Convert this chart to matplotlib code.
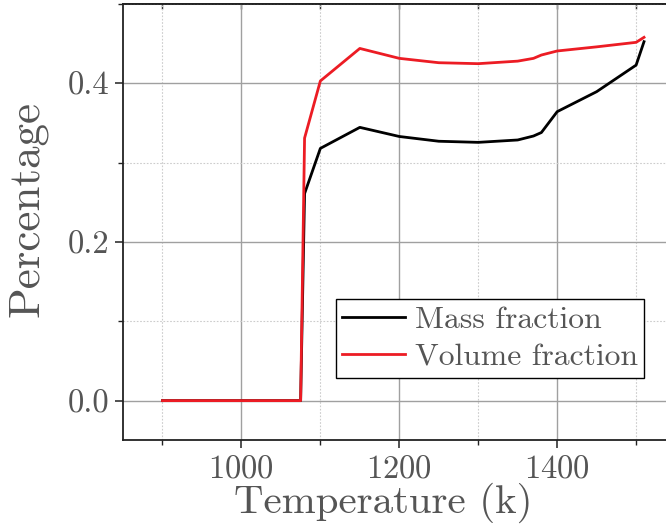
import matplotlib
matplotlib.use("Agg")
import matplotlib.pyplot as plt
from matplotlib.ticker import MultipleLocator, FormatStrFormatter

# Temperature samples (K) and the two phase-fraction series
temperature = [900, 1075, 1080, 1100, 1150, 1200, 1250, 1300, 1350, 1370, 1380, 1400, 1450, 1500, 1510]
mass_fraction = [0.0, 0.0, 0.261, 0.318, 0.3445, 0.333, 0.327, 0.3256, 0.3286, 0.3336, 0.338, 0.3643, 0.3895, 0.423, 0.4525]
volume_fraction = [0.0, 0.0, 0.331, 0.403, 0.444, 0.4315, 0.426, 0.4248, 0.428, 0.4315, 0.4357, 0.4408, 0.446, 0.4517, 0.458]

series_labels = ["Mass fraction", "Volume fraction"]
x_label = "Temperature (k)"
y_label = "Percentage"

text_gray = "#555555"
plt.rcParams["font.family"] = ["cmr10", "DejaVu Serif"]
plt.rcParams["mathtext.fontset"] = "cm"
plt.rcParams["axes.formatter.use_mathtext"] = True

fig = plt.figure(figsize=(6.66, 5.29), dpi=100)
ax = fig.add_axes([0.1847, 0.1677, 0.8297, 0.8247])

ax.plot(temperature, mass_fraction, color="black", lw=2.0, label=series_labels[0], zorder=3)
ax.plot(temperature, volume_fraction, color="#ec1c24", lw=2.0, label=series_labels[1], zorder=3)

ax.set_xlim(850, 1550)
ax.set_ylim(-0.05, 0.5)

ax.xaxis.set_major_locator(MultipleLocator(200))
ax.xaxis.set_minor_locator(MultipleLocator(100))
ax.yaxis.set_major_locator(MultipleLocator(0.2))
ax.yaxis.set_minor_locator(MultipleLocator(0.1))
ax.yaxis.set_major_formatter(FormatStrFormatter("%.1f"))

ax.grid(which="major", color="#a0a0a0", lw=1.0, ls="-", zorder=0)
ax.grid(which="minor", color="#cccccc", lw=0.8, ls=(0, (1.5, 1.5)), zorder=0)
ax.set_axisbelow(True)

for side in ("left", "bottom", "top"):
    ax.spines[side].set_color("#222222")
    ax.spines[side].set_linewidth(1.3)
ax.spines["right"].set_visible(False)

ax.tick_params(axis="both", which="major", direction="out", length=6, width=1.1,
               color="#222222", labelsize=23.5, labelcolor=text_gray, pad=4)
ax.tick_params(axis="both", which="minor", direction="out", length=3.5, width=1.0, color="#222222")

# inward ticks along the top edge
top = ax.secondary_xaxis("top")
top.xaxis.set_major_locator(MultipleLocator(100))
top.tick_params(axis="x", which="both", direction="in", length=3.5, width=1.0,
                color="#222222", labeltop=False)
top.spines["top"].set_color("#222222")
top.spines["top"].set_linewidth(1.3)

ax.set_xlabel(x_label, fontsize=29.5, color=text_gray)
ax.xaxis.set_label_coords(0.4705, -0.098)
ax.set_ylabel(y_label, fontsize=32.5, color=text_gray)
ax.yaxis.set_label_coords(-0.136, 0.53)

leg = ax.legend(loc="upper left", bbox_to_anchor=(335.7 / 666, 1 - 299.3 / 529),
                bbox_transform=fig.transFigure, fontsize=22.8, frameon=True, fancybox=False,
                framealpha=1, edgecolor="black", borderpad=0.2, borderaxespad=0,
                handlelength=2.0, handletextpad=0.3, labelspacing=0.3)
leg.get_frame().set_linewidth(1.0)
for t in leg.get_texts():
    t.set_color(text_gray)

fig.savefig("out.png", dpi=100)
